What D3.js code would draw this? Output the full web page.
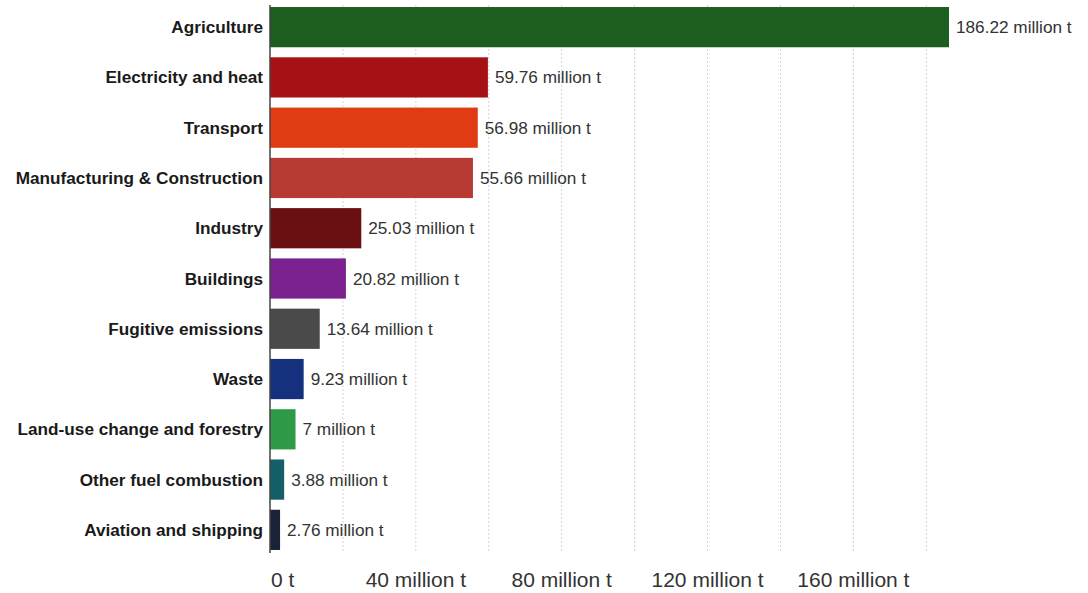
<!DOCTYPE html>
<html>
<head>
<meta charset="utf-8">
<script src="https://cdn.jsdelivr.net/npm/d3@7"></script>
<style>
  body { margin: 0; background: #fff; }
  text { font-family: "Liberation Sans", Arial, sans-serif; }
</style>
</head>
<body>
<div id="chart"></div>
<script>
// sectors and emissions (million t)
var sectors = ["Agriculture", "Electricity and heat", "Transport", "Manufacturing & Construction",
  "Industry", "Buildings", "Fugitive emissions", "Waste", "Land-use change and forestry",
  "Other fuel combustion", "Aviation and shipping"];
var amounts = [186.22, 59.76, 56.98, 55.66, 25.03, 20.82, 13.64, 9.23, 7, 3.88, 2.76];
var colors = ["#1b5e20", "#a51114", "#e03b13", "#b73a33", "#6a1013", "#7b2190",
  "#4a4a4a", "#15307c", "#2e9a48", "#145f67", "#1b2237"];
var gridTicks = [20, 40, 60, 80, 100, 120, 140, 160, 180];
var labelTicks = [0, 40, 80, 120, 160];

var width = 1088;
var height = 593;

var dataset = sectors.map(function(s, i) {
  return { type: s, amount: amounts[i], color: colors[i] };
});

var svg = d3.select('#chart')
  .append('svg')
  .attr('width', width)
  .attr('height', height);

var x = d3.scaleLinear()
  .domain([0, 186.22])
  .range([270, 949]);

var y = d3.scaleBand()
  .domain(sectors)
  .range([2, 555])
  .paddingInner(0.2)
  .paddingOuter(0.1);

// dotted grid
svg.append('g')
  .selectAll('line')
  .data(gridTicks)
  .enter()
  .append('line')
  .attr('x1', function(d) { return x(d); })
  .attr('x2', function(d) { return x(d); })
  .attr('y1', 5)
  .attr('y2', 553)
  .attr('stroke', '#d4d4d4')
  .attr('stroke-dasharray', '2,2');

svg.append('g')
  .selectAll('rect')
  .data(dataset)
  .enter()
  .append('rect')
  .attr('x', x(0))
  .attr('y', function(d) { return y(d.type); })
  .attr('width', function(d) { return x(d.amount) - x(0); })
  .attr('height', y.bandwidth())
  .attr('fill', function(d) { return d.color; });

// axis line
svg.append('line')
  .attr('x1', x(0)).attr('x2', x(0))
  .attr('y1', 5).attr('y2', 553)
  .attr('stroke', '#444')
  .attr('stroke-width', 1.5);

// category labels
svg.append('g')
  .selectAll('text')
  .data(dataset)
  .enter()
  .append('text')
  .attr('x', 263)
  .attr('y', function(d) { return y(d.type) + y.bandwidth() / 2; })
  .attr('dy', '0.35em')
  .attr('text-anchor', 'end')
  .attr('font-size', 17.2)
  .attr('font-weight', 'bold')
  .attr('fill', '#1a1a1a')
  .text(function(d) { return d.type; });

// value labels
svg.append('g')
  .selectAll('text')
  .data(dataset)
  .enter()
  .append('text')
  .attr('x', function(d) { return x(d.amount) + 7; })
  .attr('y', function(d) { return y(d.type) + y.bandwidth() / 2; })
  .attr('dy', '0.35em')
  .attr('font-size', 17.2)
  .attr('fill', '#333')
  .text(function(d) { return d.amount + ' million t'; });

// x tick labels
svg.append('g')
  .selectAll('text')
  .data(labelTicks)
  .enter()
  .append('text')
  .attr('x', function(d) { return d === 0 ? x(d) + 1 : x(d); })
  .attr('y', 587)
  .attr('text-anchor', function(d) { return d === 0 ? 'start' : 'middle'; })
  .attr('font-size', 21)
  .attr('fill', '#333')
  .text(function(d) { return d === 0 ? '0 t' : d + ' million t'; });
</script>
</body>
</html>
